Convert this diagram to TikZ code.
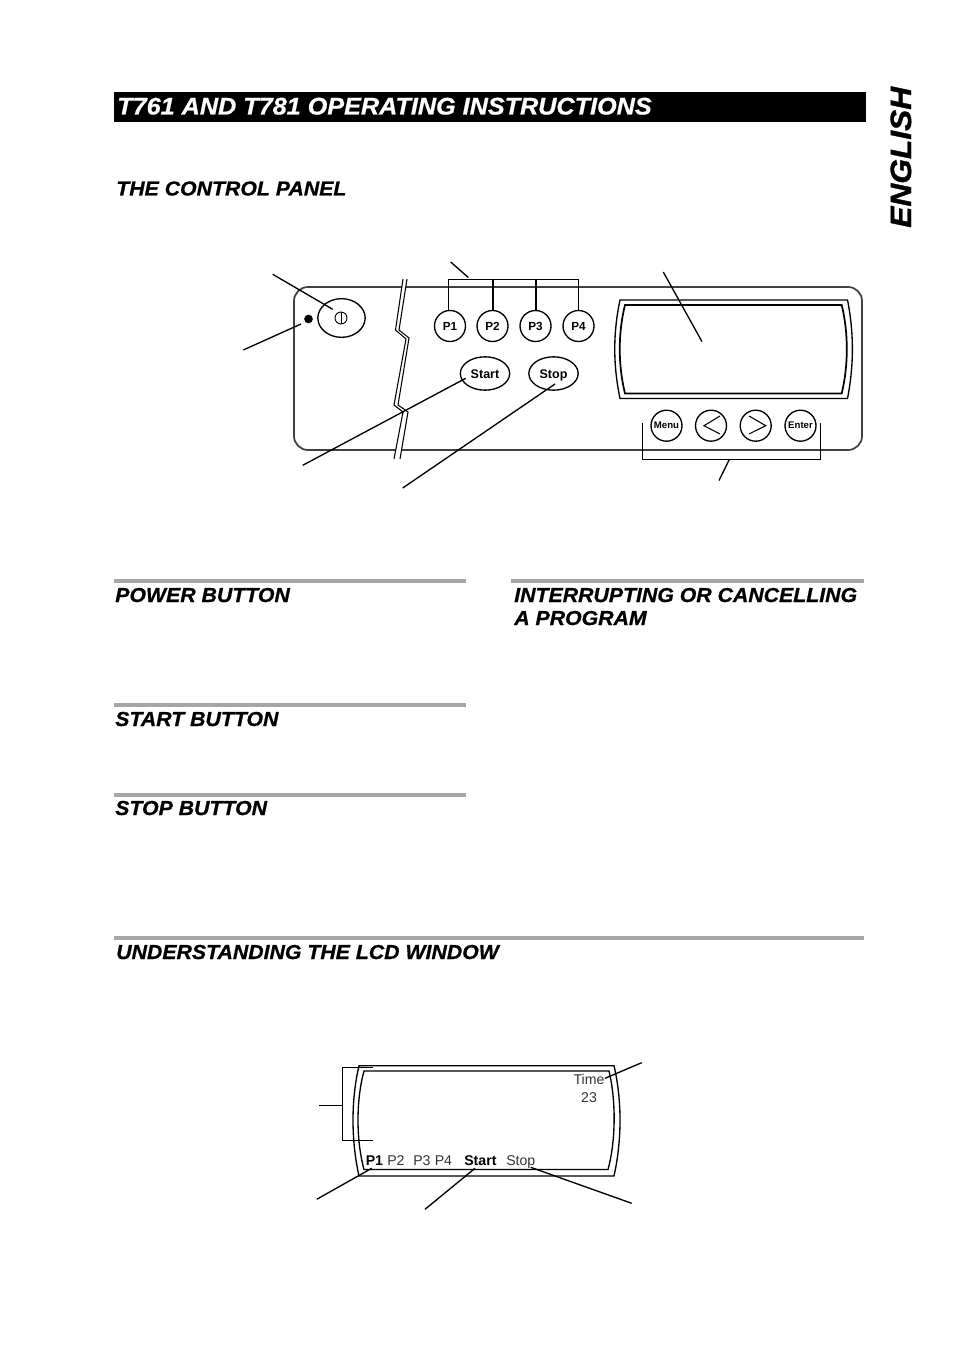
\documentclass[tikz,border=0pt]{standalone}
\usepackage{fontspec}
\setmainfont{Liberation Sans}[BoldItalicFeatures={FakeStretch=1.05,FakeBold=0.8}]
\newfontfamily\engfont{Liberation Sans}[BoldItalicFeatures={FakeStretch=1.08,FakeBold=1.2}]
\usetikzlibrary{shapes.geometric}
\tikzset{
  x=0.75pt,y=-0.75pt,
  heading/.style={anchor=base west,inner sep=0pt,font=\fontsize{15.2pt}{18pt}\selectfont\bfseries\itshape},
  rulebar/.style={line width=3pt,draw=black!35},
  outline/.style={draw=black,line width=1pt,fill=white,inner sep=0pt},
  round btn/.style={outline,circle,minimum size=23.25pt},
  oval btn/.style={outline,ellipse,minimum width=37pt,minimum height=25pt},
  btnlabel/.style={font=\fontsize{7.2pt}{9pt}\selectfont\bfseries},
  pbtnlabel/.style={font=\fontsize{8.8pt}{9pt}\selectfont\bfseries,text height=6.3pt,text depth=0pt},
  ovallabel/.style={font=\fontsize{9.4pt}{10pt}\selectfont\bfseries,text height=6.8pt,text depth=0pt},
  leader/.style={draw=black,line width=1pt},
  panel line/.style={draw=black!75,line width=1.3pt},
  lcdtext/.style={anchor=base west,inner sep=0pt,font=\fontsize{10.6pt}{12pt}\selectfont,text=black!80},
  lcdbold/.style={lcdtext,text=black,font=\fontsize{10.6pt}{12pt}\selectfont\bfseries},
}
\begin{document}
\begin{tikzpicture}
\useasboundingbox (0,0) rectangle (954,1351);
\fill[white] (0,0) rectangle (954,1351);
% title bar
\fill[black] (114,92) rectangle (866,122);
\node[heading,text=white,font=\fontsize{18pt}{20pt}\selectfont\bfseries\itshape] (title) at (117,114.5) {T761 AND T781 OPERATING INSTRUCTIONS};
\node[heading,rotate=90,font=\engfont\fontsize{22pt}{26pt}\selectfont\bfseries\itshape] (english) at (911,228) {ENGLISH};
\node[heading] (h1) at (116,195.5) {THE CONTROL PANEL};
% panel
\draw[panel line,rounded corners=10.5pt] (294,287) rectangle (862,450);
% break
\fill[white] (403,279) -- (395.5,330) -- (406,339) -- (394,405) -- (403,412) -- (394,459)
  -- (400,459) -- (408,412) -- (398,405) -- (409,338) -- (399,330) -- (407,279) -- cycle;
\draw[leader,line width=0.8pt] (403,279) -- (395.5,330) -- (406,339) -- (394,405) -- (403,412) -- (394,459);
\draw[leader,line width=0.8pt] (407,279) -- (399,330) -- (409,338) -- (398,405) -- (408,412) -- (400,459);
% LCD window
\draw[leader] (620,300) -- (847.5,300) .. controls (854,333) and (854,365) .. (847.5,398.5) -- (620,398.5) .. controls (613,365) and (613,333) .. (620,300) -- cycle;
\draw[leader,line width=1.3pt] (625,305) -- (841.7,305) .. controls (848.5,333) and (848.5,365) .. (841.7,393.5) -- (625,393.5) .. controls (618,365) and (618,333) .. (625,305) -- cycle;
% buttons
\node[oval btn,minimum width=35.5pt,minimum height=29pt] (power) at (341.5,318) {};
\node[circle,draw=black,line width=0.7pt,minimum size=9pt,inner sep=0pt] (powericon) at (341,318) {};
\draw[line width=0.6pt] (powericon.north) -- (powericon.south);
\node[circle,fill=black,minimum size=6.5pt,inner sep=0pt] (led) at (308.5,319) {};
\foreach \n/\t/\xx in {p1/P1/450,p2/P2/492.5,p3/P3/535.5,p4/P4/578.5}
  \node[round btn,pbtnlabel] (\n) at (\xx,326) {\t};
\node[oval btn,ovallabel] (start) at (485,373.5) {Start};
\node[oval btn,ovallabel] (stop) at (553.5,373.5) {Stop};
\node[round btn,btnlabel] (menu) at (666.5,425.7) {Menu};
\node[round btn] (left) at (711,425.7) {};
\node[round btn] (right) at (755.7,425.7) {};
\node[round btn,btnlabel] (enter) at (800.5,425.7) {Enter};
\draw[line width=0.8pt] (720,416) -- (704,425.7) -- (720,434);
\draw[line width=0.8pt] (749,416) -- (765.7,425.7) -- (749,434);
% bracket P
\coordinate (pb1) at (448.5,279.5);
\coordinate (pb4) at (578.5,279.5);
\draw[leader] (p1.north -| pb1) -- (pb1) -- (pb4) -- (p4.north);
\draw[leader,line width=1.5pt] (p2.north) -- (p2.north |- pb1);
\draw[leader,line width=1.5pt] (p3.north) -- (p3.north |- pb1);
\coordinate (a1) at (450.7,262); \coordinate (a2) at (468.3,277.5);
\draw[leader] (a1) -- (a2);
% leaders
\coordinate (b1) at (272.7,274.3); \coordinate (b2) at (332.7,309.3);
\draw[leader] (b1) -- (b2);
\coordinate (c1) at (243.3,350); \coordinate (c2) at (301,324);
\draw[leader] (c1) -- (c2);
\coordinate (d1) at (302.7,465.3); \coordinate (d2) at (465.7,378.3);
\draw[leader] (d1) -- (d2);
\coordinate (e1) at (402.7,488); \coordinate (e2) at (555,384);
\draw[leader] (e1) -- (e2);
\coordinate (f1) at (663.3,272); \coordinate (f2) at (702,341.7);
\draw[leader] (f1) -- (f2);
\coordinate (g1) at (642.5,423.3); \coordinate (g2) at (642.5,459.5); \coordinate (g3) at (820.5,459.5); \coordinate (g4) at (820.5,423.3);
\draw[leader] (g1) -- (g2) -- (g3) -- (g4);
\coordinate (g5) at (729.3,459.5); \coordinate (g6) at (719,480.5);
\draw[leader] (g5) -- (g6);
% section rules + headings
\draw[rulebar] (114,581) -- (466,581);
\draw[rulebar] (511,581) -- (864,581);
\draw[rulebar] (114,705) -- (466,705);
\draw[rulebar] (114,795) -- (466,795);
\draw[rulebar] (114,938) -- (864,938);
\node[heading] (h2) at (115,602) {POWER BUTTON};
\node[heading] (h3) at (514,602) {INTERRUPTING OR CANCELLING};
\node[heading] (h4) at (514,625) {A PROGRAM};
\node[heading] (h5) at (115,726) {START BUTTON};
\node[heading] (h6) at (115,815) {STOP BUTTON};
\node[heading] (h7) at (116,959) {UNDERSTANDING THE LCD WINDOW};
% lower LCD
\draw[leader] (359,1065.7) -- (614,1065.7) .. controls (622,1100) and (622,1140) .. (614,1176) -- (359,1176) .. controls (351,1140) and (351,1100) .. (359,1065.7) -- cycle;
\draw[leader] (364,1071) -- (609,1071) .. controls (616,1100) and (616,1140) .. (608,1169.5) -- (364,1169.5) .. controls (356,1140) and (356,1100) .. (364,1071) -- cycle;
\node[lcdtext,anchor=base] (time) at (589,1084) {Time};
\node[lcdtext,anchor=base] (num) at (589,1102) {23};
\node[lcdbold] (lp1) at (365.5,1165) {P1};
\node[lcdtext] (lp2) at (387,1165) {P2};
\node[lcdtext] (lp3) at (413,1165) {P3};
\node[lcdtext] (lp4) at (434.5,1165) {P4};
\node[lcdbold] (lstart) at (464,1165) {Start};
\node[lcdtext] (lstop) at (506,1165) {Stop};
\coordinate (k1) at (373.3,1067.5); \coordinate (k2) at (342.5,1067.5); \coordinate (k3) at (342.5,1140.5); \coordinate (k4) at (373.3,1140.5);
\draw[leader] (k1) -- (k2) -- (k3) -- (k4);
\coordinate (k5) at (319.3,1105.5); \coordinate (k6) at (343,1105.5);
\draw[leader] (k5) -- (k6);
\coordinate (m1) at (641.7,1062.7); \coordinate (m2) at (605,1078.3);
\draw[leader] (m1) -- (m2);
\coordinate (n1) at (316.7,1199.3); \coordinate (n2) at (371.7,1168.3);
\draw[leader] (n1) -- (n2);
\coordinate (o1) at (425,1209.3); \coordinate (o2) at (475,1168.3);
\draw[leader] (o1) -- (o2);
\coordinate (q1) at (631.7,1203.3); \coordinate (q2) at (530.7,1167.3);
\draw[leader] (q1) -- (q2);
\end{tikzpicture}
\end{document}
